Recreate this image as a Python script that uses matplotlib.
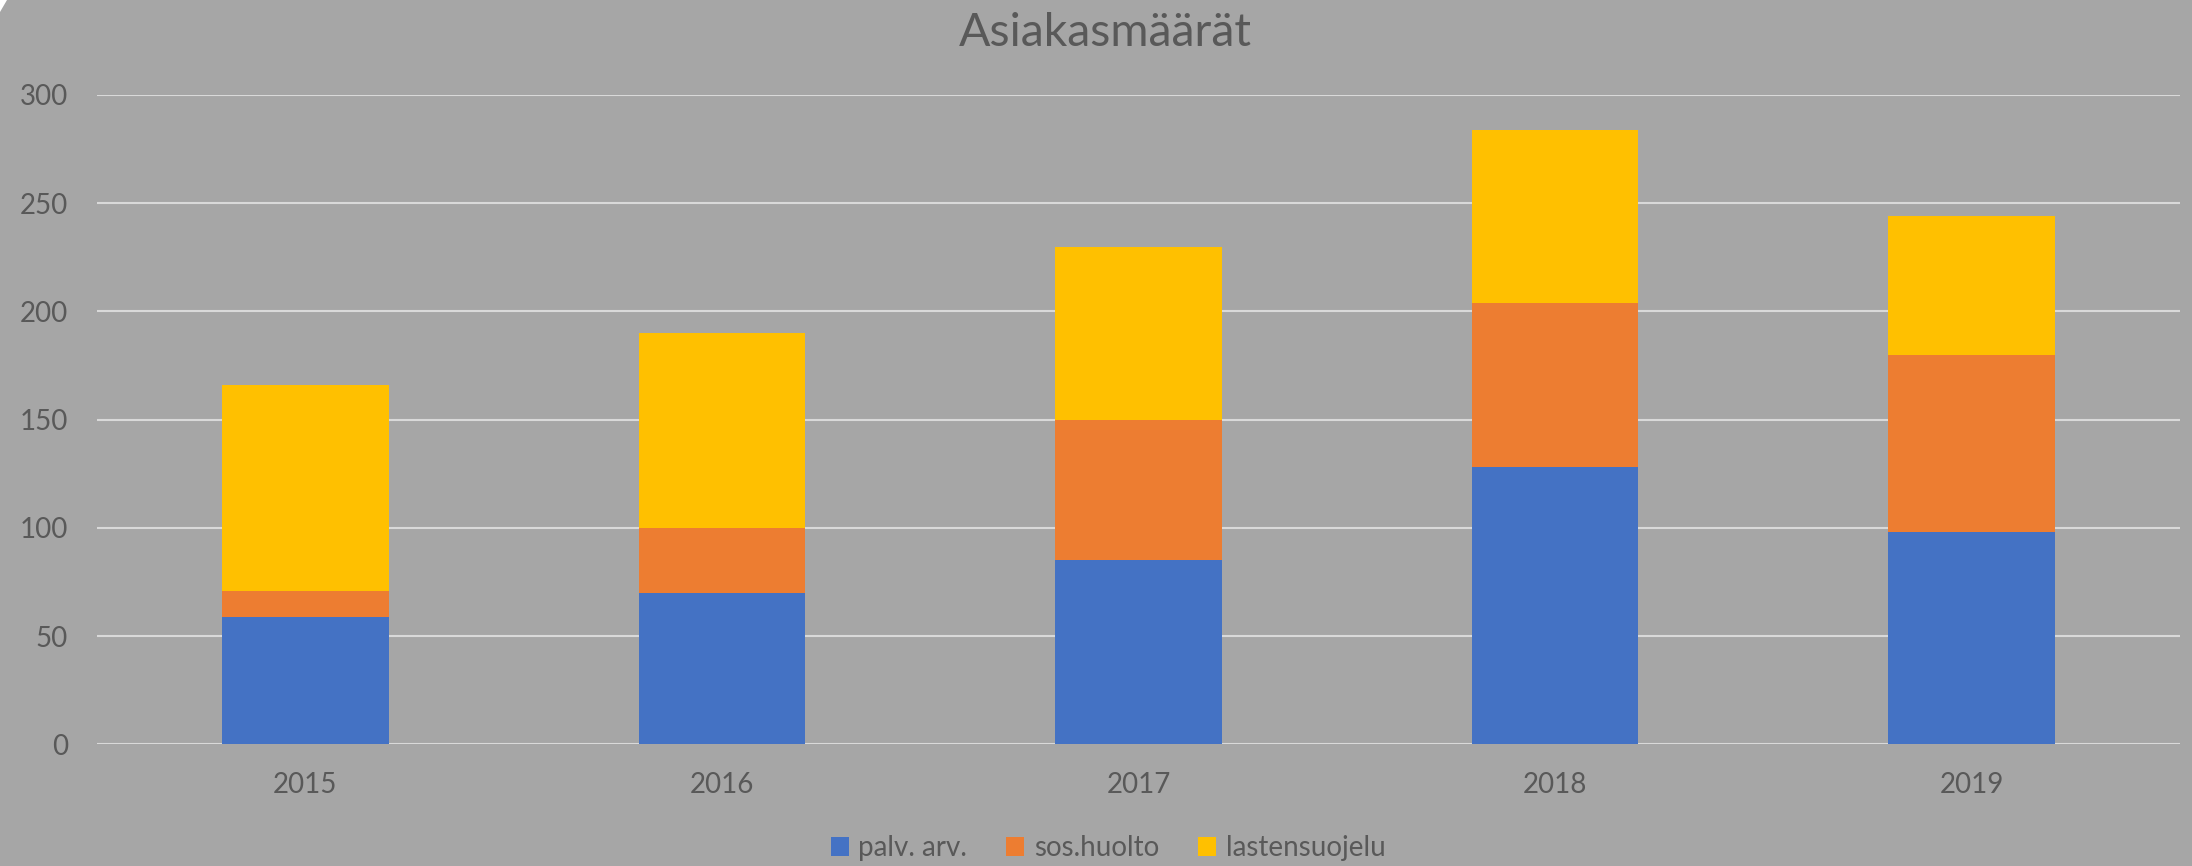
import numpy as np
import matplotlib
matplotlib.use("Agg")
import matplotlib.pyplot as plt
from matplotlib.patches import Polygon, Patch

years = ["2015", "2016", "2017", "2018", "2019"]
palv_arv = [59, 70, 85, 128, 98]
sos_huolto = [12, 30, 65, 76, 82]
lastensuojelu = [95, 90, 80, 80, 64]
series_names = ["palv. arv.", "sos.huolto", "lastensuojelu"]
colors = ["#4472C4", "#ED7D31", "#FFC000"]

bg = "#A6A6A6"
txt = "#595959"
grid = "#D9D9D9"

plt.rcParams["font.family"] = ["Lato", "DejaVu Sans"]

W, H = 2192, 866
fig = plt.figure(figsize=(W / 100, H / 100), dpi=100, facecolor=bg)
ax = fig.add_axes([97 / W, 121.7 / H, (2180 - 97) / W, (744.3 - 95) / H])
ax.set_facecolor(bg)

x = np.arange(len(years))
bottom = np.zeros(len(years))
for vals, name, c in zip([palv_arv, sos_huolto, lastensuojelu], series_names, colors):
    ax.bar(x, vals, width=0.4, bottom=bottom, color=c, label=name, zorder=2)
    bottom += np.array(vals)

ax.set_xlim(-0.5, len(years) - 0.5)
ax.set_ylim(0, 300)
ax.set_yticks(range(0, 301, 50))
ax.set_xticks(x)
ax.set_xticklabels(years)
ax.yaxis.grid(True, color=grid, linewidth=1.5, zorder=0)
ax.set_axisbelow(True)
for s in ax.spines.values():
    s.set_visible(False)
ax.tick_params(axis="both", length=0, labelsize=20, labelcolor=txt)
ax.tick_params(axis="y", pad=21)
ax.tick_params(axis="x", pad=20)

fig.text(1105 / W, 1 - 46 / H, "Asiakasmäärät", ha="center", va="baseline",
         fontsize=33.5, color=txt)

handles = [Patch(facecolor=c, edgecolor="none") for c in colors]
leg = fig.legend(handles, series_names, loc="center", bbox_to_anchor=(1108 / W, 18 / H),
                 ncol=3, frameon=False, fontsize=20, labelcolor=txt,
                 handlelength=0.65, handleheight=0.65, handletextpad=0.35,
                 columnspacing=1.4)

# little white corner at top left
fig.add_artist(Polygon([[0, 1], [7 / W, 1], [0, 1 - 12 / H]], closed=True,
                       transform=fig.transFigure, facecolor="white", edgecolor="none"))

fig.savefig("out.png", dpi=100, facecolor=bg)
